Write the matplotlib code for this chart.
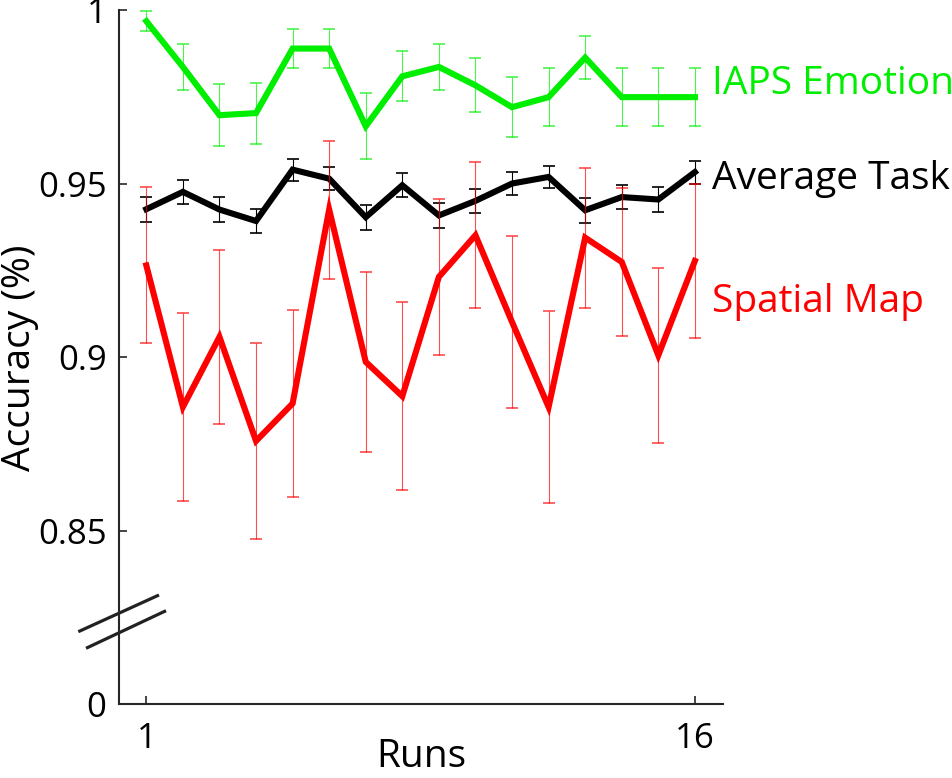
import numpy as np
import matplotlib
matplotlib.use("Agg")
import matplotlib.pyplot as plt

plt.rcParams['font.family'] = ['Open Sans', 'DejaVu Sans']

runs = np.arange(1, 17)

# IAPS Emotion
emo_mean = [0.9968, 0.9836, 0.9697, 0.9703, 0.9889, 0.9889, 0.9665, 0.9809,
            0.9836, 0.9783, 0.9720, 0.9749, 0.9863, 0.9749, 0.9749, 0.9749]
emo_err = [0.0028, 0.0067, 0.0090, 0.0088, 0.0055, 0.0055, 0.0095, 0.0072,
           0.0067, 0.0078, 0.0086, 0.0083, 0.0063, 0.0083, 0.0083, 0.0083]

# Average Task
avg_mean = [0.9426, 0.9476, 0.9425, 0.9392, 0.9540, 0.9514, 0.9403, 0.9495,
            0.9408, 0.9450, 0.9500, 0.9519, 0.9423, 0.9461, 0.9454, 0.9533]
avg_err = [0.0036, 0.0034, 0.0036, 0.0036, 0.0032, 0.0033, 0.0036, 0.0034,
           0.0036, 0.0035, 0.0033, 0.0032, 0.0036, 0.0035, 0.0035, 0.0033]

# Spatial Map
map_mean = [0.9264, 0.8856, 0.9058, 0.8758, 0.8866, 0.9425, 0.8986, 0.8887,
            0.9231, 0.9351, 0.9101, 0.8856, 0.9344, 0.9274, 0.9005, 0.9277]
map_err = [0.0225, 0.0270, 0.0250, 0.0283, 0.0269, 0.0199, 0.0259, 0.0271,
           0.0224, 0.0211, 0.0248, 0.0277, 0.0202, 0.0214, 0.0253, 0.0221]

series = [
    ("IAPS Emotion", emo_mean, emo_err, "#00ee00", 0.9759),
    ("Average Task", avg_mean, avg_err, "black", 0.9485),
    ("Spatial Map", map_mean, map_err, "#ff0000", 0.9129),
]

fig = plt.figure(figsize=(9.53, 7.78), dpi=100)
ax = fig.add_axes([0.1249, 0.0951, 0.6338, 0.892])

for name, m, e, c, ylab in series:
    ax.errorbar(runs, m, yerr=e, fmt='none', ecolor=c, elinewidth=0.8,
                capsize=4, capthick=1.2, alpha=0.7 if c != "black" else 1.0)
    ax.plot(runs, m, color=c, lw=4.4, solid_joinstyle='miter')
    ax.text(16.465, ylab, name, color=c, fontsize=28, va='baseline',
            ha='left', clip_on=False)

ax.set_xlim(0.254, 16.77)
ax.set_ylim(0.8, 1.0)
ax.set_xticks([1, 16])
ax.set_xticklabels(["1", "16"])
ax.set_yticks([0.8, 0.85, 0.9, 0.95, 1.0])
ax.set_yticklabels(["0", "0.85", "0.9", "0.95", "1"])
ax.tick_params(direction='in', length=6, width=1.2, labelsize=25,
               colors='#262626', labelcolor='black')
ax.tick_params(axis='y', pad=9)
ax.tick_params(axis='x', pad=13)

for s in ['top', 'right']:
    ax.spines[s].set_visible(False)
for s in ['left', 'bottom']:
    ax.spines[s].set_linewidth(1.5)
    ax.spines[s].set_color('#262626')

ax.set_xlabel("Runs", fontsize=28, labelpad=-13)
fig.text(20 / 953, 1 - 358 / 778, "Accuracy (%)", fontsize=28, rotation=90,
         ha='center', va='center')

# axis break marks
for (x0, y0, x1, y1) in [(-0.0674, 0.1042, 0.0662, 0.1571),
                         (-0.0546, 0.0803, 0.0778, 0.1345)]:
    ax.plot([x0, x1], [y0, y1], transform=ax.transAxes, color='#222222',
            lw=2.3, clip_on=False, solid_capstyle='butt')

fig.savefig("out.png", dpi=100)
